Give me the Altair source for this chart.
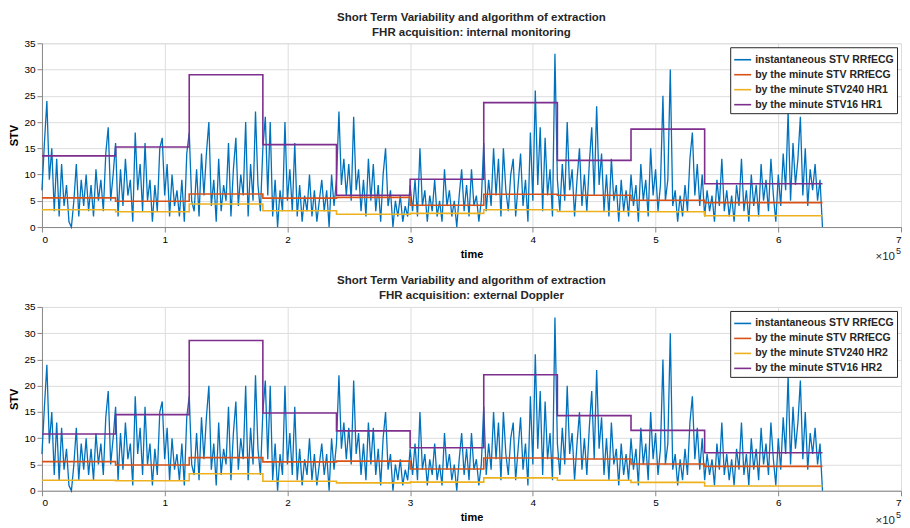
import altair as alt
import pandas as pd

# ---------------- data ----------------
STEP_MS = 2000  # spacing of the instantaneous STV samples
stv_inst = [
    7, 16, 24, 9, 15,   3, 13, 2, 12, 4,   8, 1, 0, 5, 12,   2, 9, 4, 10, 3,
    8, 2, 11, 5, 9,     3, 14, 19, 5, 10,  16, 2, 11, 4, 13,  6, 9, 1, 18, 7,
    12, 3, 16, 5, 9,    1, 8, 3, 15, 17,   6, 12, 2, 10, 4,   7, 2, 9, 1, 14,
    18, 5, 3, 11, 2,    14, 6, 14, 20, 4,  9, 1, 13, 3, 8,    5, 16, 2, 11, 17,
    4, 10, 6, 20, 2,    12, 5, 22, 8, 3,   15, 21, 6, 20, 2,  9, 0, 7, 3, 20,
    5, 11, 3, 16, 2,    8, 1, 6, 3, 10,    2, 7, 1, 5, 9,     3, 7, 0, 10, 4,
    9, 22, 8, 13, 6,    12, 5, 21, 7, 11,  3, 9, 2, 13, 5,    12, 3, 8, 1, 10,
    15, 4, 7, 0, 5,     2, 6, 1, 4, 2,     8, 3, 9, 2, 15,    4, 7, 1, 6, 3,
    9, 2, 5, 1, 11,     4, 7, 2, 5, 0,     6, 11, 3, 8, 2,    11, 4, 6, 1, 5,
    16, 3, 9, 4, 15,    6, 13, 2, 15, 7,   3, 10, 13, 2, 8,   14, 4, 9, 1, 18,
    5, 26, 8, 19, 3,    17, 6, 11, 2, 33,  9, 3, 12, 5, 20,   7, 11, 2, 9, 15,
    4, 10, 3, 12, 19,   6, 23, 8, 14, 3,   10, 2, 13, 5, 8,   1, 9, 3, 7, 2,
    10, 4, 8, 1, 12,    5, 9, 2, 15, 6,    11, 3, 8, 25, 5,   9, 30, 4, 7, 1,
    6, 2, 8, 3, 13,     18, 6, 12, 4, 10,  2, 7, 3, 6, 1,     9, 4, 13, 3, 7,
    2, 6, 1, 8, 4,      13, 3, 7, 1, 10,   4, 8, 2, 12, 5,    9, 3, 13, 6, 1,
    10, 4, 14, 7, 22,   5, 16, 8, 13, 21,  6, 15, 4, 11, 7,   12, 5, 9, 0,
]

seg_edges = [0, 60000, 120000, 180000, 240000, 300000, 360000, 420000, 480000, 540000, 636000]
stv_min_rrf = [5.55, 4.9, 6.3, 5.5, 5.65, 4.15, 6.25, 6.05, 5.1, 4.65]
stv240_hr1 = [3.3, 2.9, 4.4, 3.1, 2.45, 2.6, 3.3, 2.95, 2.9, 2.15]
stv16_hr1 = [13.55, 15.25, 29.0, 15.7, 6.05, 9.1, 23.7, 12.7, 18.65, 8.25]
stv240_hr2 = [2.0, 1.9, 3.25, 1.8, 1.5, 1.65, 2.45, 2.0, 1.6, 0.9]
stv16_hr2 = [10.8, 14.5, 28.6, 14.8, 11.4, 8.2, 22.1, 14.3, 11.5, 7.25]

x_ticks = [0, 100000, 200000, 300000, 400000, 500000, 600000, 700000]
y_ticks = [0, 5, 10, 15, 20, 25, 30, 35]

COLORS = ["#0072BD", "#D95319", "#EDB120", "#7E2F8E"]
FONT = "Liberation Sans"
W, H = 860, 184


def panel(hr, stv240, stv16, subtitle):
    names = [
        "instantaneous STV RRfECG",
        "by the minute STV RRfECG",
        f"by the minute STV240 {hr}",
        f"by the minute STV16 {hr}",
    ]
    inst_df = pd.DataFrame({
        "time": [i * STEP_MS for i in range(len(stv_inst))],
        "STV": stv_inst,
        "series": names[0],
    })
    rows = []
    for name, vals in zip(names[1:], [stv_min_rrf, stv240, stv16]):
        for t, v in zip(seg_edges, vals + [vals[-1]]):
            rows.append({"time": t, "STV": v, "series": name})
    step_df = pd.DataFrame(rows)

    color = alt.Color(
        "series:N",
        scale=alt.Scale(domain=names, range=COLORS),
        legend=alt.Legend(
            title=None, orient="top-right", offset=4,
            strokeColor="#262626", fillColor="white", padding=3,
            symbolType="stroke", symbolSize=289, symbolStrokeWidth=1.6,
            labelFont=FONT, labelFontSize=10.5, labelFontWeight="bold",
            labelColor="#262626", rowPadding=0, labelLimit=300, labelOffset=3,
        ),
    )
    x = alt.X("time:Q", scale=alt.Scale(domain=[0, 700000], nice=False),
              axis=alt.Axis(values=x_ticks, labelExpr="datum.value / 100000",
                            title="time", grid=True))
    y = alt.Y("STV:Q", scale=alt.Scale(domain=[0, 35], nice=False),
              axis=alt.Axis(values=y_ticks, title="STV", grid=True))

    inst = alt.Chart(inst_df).mark_line(strokeWidth=1.3).encode(x=x, y=y, color=color)
    steps = alt.Chart(step_df).mark_line(interpolate="step-after", strokeWidth=1.6).encode(
        x=x, y=y, color=color)

    exp_base = alt.Chart(pd.DataFrame({"t": ["×10"]})).mark_text(
        font=FONT, fontSize=11.5, align="right", baseline="middle", color="#262626"
    ).encode(text="t:N", x=alt.value(W - 6), y=alt.value(H + 30))
    exp_pow = alt.Chart(pd.DataFrame({"t": ["5"]})).mark_text(
        font=FONT, fontSize=9, align="left", baseline="middle", color="#262626"
    ).encode(text="t:N", x=alt.value(W - 5), y=alt.value(H + 24))

    return alt.layer(inst, steps, exp_base, exp_pow).properties(
        width=W, height=H,
        title=alt.TitleParams(
            ["Short Term Variability and algorithm of extraction", subtitle],
            font=FONT, fontSize=11.5, fontWeight="bold", anchor="middle",
            offset=0, lineHeight=15, color="#262626",
        ),
    )


top = panel("HR1", stv240_hr1, stv16_hr1, "FHR acquisition: internal monitoring")
bottom = panel("HR2", stv240_hr2, stv16_hr2, "FHR acquisition: external Doppler")

chart = alt.vconcat(top, bottom, spacing=12).resolve_scale(color="independent").configure_view(
    stroke="#262626", strokeWidth=1
).configure_axis(
    labelFont=FONT, labelFontSize=11, labelFontWeight="bold", labelColor="#262626",
    titleFont=FONT, titleFontSize=11, titleFontWeight="bold", titleColor="#262626",
    gridColor="#dedede", gridWidth=1, domain=False, ticks=False, tickSize=0,
).configure_axisX(
    labelPadding=4, titlePadding=6,
).configure_axisY(
    labelPadding=2, titlePadding=3,
).configure(background="white", padding={"top": 3, "left": 0, "right": 0, "bottom": 0})

chart.save("out.html", embed_options={"renderer": "svg", "actions": False})
